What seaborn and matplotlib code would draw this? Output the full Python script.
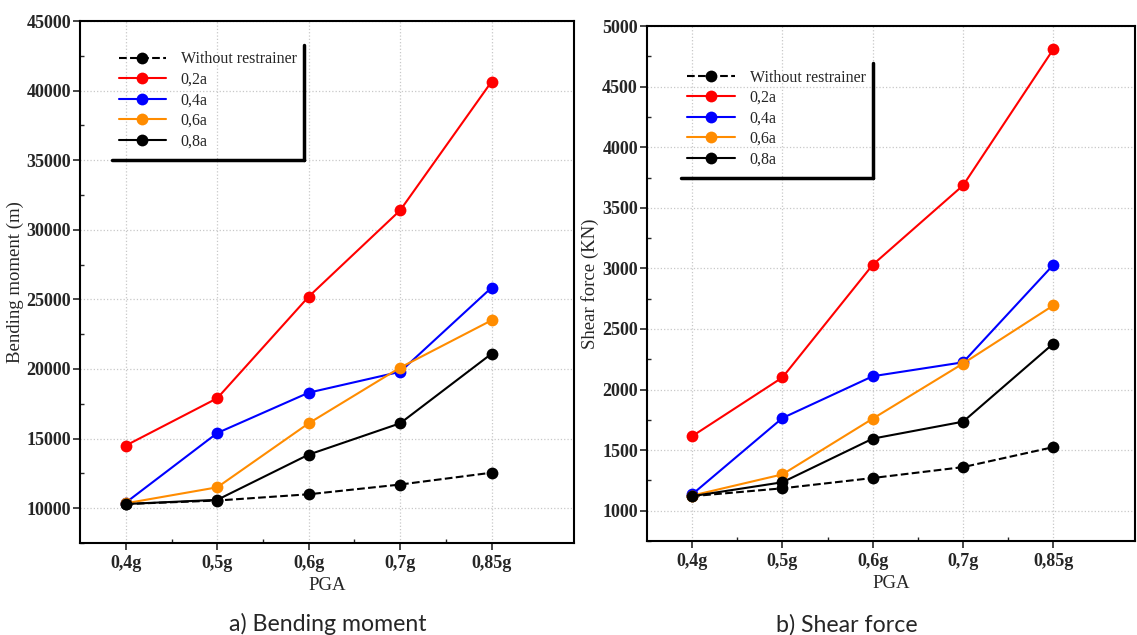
import numpy as np
import pandas as pd
import matplotlib
matplotlib.use("Agg")
import matplotlib.pyplot as plt
from matplotlib.ticker import MultipleLocator
from matplotlib.lines import Line2D
import seaborn as sns

pga = ["0,4g", "0,5g", "0,6g", "0,7g", "0,85g"]
series_names = ["Without restrainer", "0,2a", "0,4a", "0,6a", "0,8a"]
series_colors = ["black", "#ff0000", "#0000ff", "#ff8c00", "black"]
series_dashes = ["--", "-", "-", "-", "-"]

# Bending moment
bm_without = [10300, 10550, 11000, 11700, 12550]
bm_02a = [14500, 17900, 25200, 31400, 40650]
bm_04a = [10400, 15400, 18300, 19800, 25850]
bm_06a = [10350, 11500, 16100, 20100, 23500]
bm_08a = [10300, 10600, 13850, 16100, 21100]

# Shear force
sf_without = [1120, 1185, 1270, 1360, 1525]
sf_02a = [1615, 2100, 3030, 3685, 4810]
sf_04a = [1135, 1765, 2110, 2225, 3030]
sf_06a = [1125, 1300, 1760, 2215, 2695]
sf_08a = [1120, 1235, 1595, 1735, 2380]

sns.set_style("white")
plt.rcParams["font.family"] = ["Liberation Serif", "DejaVu Serif"]

fig = plt.figure(figsize=(11.37, 6.35), dpi=100)
ax1 = fig.add_axes([0.0704, 0.1449, 0.4344, 0.822])
ax2 = fig.add_axes([0.569, 0.148, 0.429, 0.811])


def draw(ax, data, ylabel, ylim, major, minor, anchor):
    for name, vals, col, ls in zip(series_names, data, series_colors, series_dashes):
        df = pd.DataFrame({"PGA": pga, "val": vals})
        sns.lineplot(data=df, x="PGA", y="val", ax=ax, color=col, linestyle=ls,
                     marker="o", markersize=8.5, markeredgewidth=0, linewidth=1.5,
                     label=name, sort=False)
    ax.set_xlim(-0.5, 4.9)
    ax.set_ylim(*ylim)
    ax.yaxis.set_major_locator(MultipleLocator(major))
    ax.yaxis.set_minor_locator(MultipleLocator(minor))
    ax.set_xticks(range(len(pga)))
    ax.set_xticks(np.arange(0.5, len(pga) - 0.5, 1.0), minor=True)
    ax.grid(True, which="major", linestyle=":", color="#c8c8c8", linewidth=0.9)
    for s in ax.spines.values():
        s.set_color("black")
        s.set_linewidth(1.5)
    ax.tick_params(axis="both", which="major", direction="out", length=5, width=1.2,
                   labelsize=13, bottom=True, left=True)
    ax.tick_params(axis="y", which="major", pad=1.5)
    ax.tick_params(axis="both", which="minor", direction="in", length=3, width=1.0,
                   bottom=True, left=True)
    for lab in ax.get_xticklabels() + ax.get_yticklabels():
        lab.set_fontweight("bold")
    ax.set_xlabel("PGA", fontsize=13.5)
    ax.set_ylabel(ylabel, fontsize=13.5, labelpad=2)
    leg = ax.legend(loc="upper left", bbox_to_anchor=anchor, frameon=False,
                    fontsize=11.5, handlelength=3.0, handletextpad=0.9,
                    labelspacing=0.28, borderpad=0.4, borderaxespad=0)
    return leg


leg1 = draw(ax1, [bm_without, bm_02a, bm_04a, bm_06a, bm_08a],
            "Bending moment (m)", (7500, 45000), 5000, 2500, (0.065, 0.954))
leg2 = draw(ax2, [sf_without, sf_02a, sf_04a, sf_06a, sf_08a],
            "Shear force (KN)", (750, 5000), 500, 250, (0.07, 0.928))

fig.canvas.draw()
inv = fig.transFigure.inverted()
for leg in (leg1, leg2):
    bb = leg.get_window_extent()
    (x0, y0), (x1, y1) = inv.transform([[bb.x0, bb.y0 - 4], [bb.x1 + 1, bb.y1]])
    fig.add_artist(Line2D([x1, x1], [y0, y1], transform=fig.transFigure,
                          color="black", linewidth=2.5))
    fig.add_artist(Line2D([x0, x1], [y0, y0], transform=fig.transFigure,
                          color="black", linewidth=2.5))

fig.text(0.288, 0.006, "a) Bending moment", fontsize=16.7, family=["Lato", "DejaVu Sans"],
         ha="center", va="baseline")
fig.text(0.745, 0.006, "b) Shear force", fontsize=16.7, family=["Lato", "DejaVu Sans"],
         ha="center", va="baseline")

fig.savefig("out.png", dpi=100)
